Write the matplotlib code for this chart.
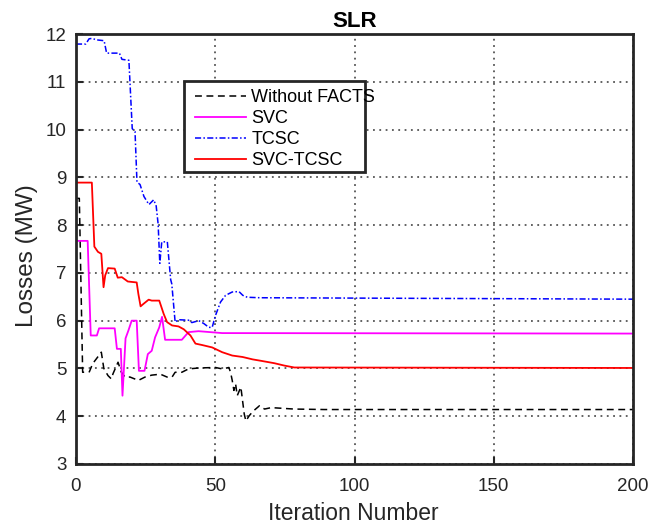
import matplotlib
matplotlib.use("Agg")
import matplotlib.pyplot as plt
from matplotlib.patches import Rectangle

plt.rcParams['font.family'] = ['Liberation Sans', 'DejaVu Sans']

# Without FACTS
wf_it = [0, 1.2, 2.4, 4.8, 6.0, 7.3, 9.1, 10.0, 11.5, 12.7, 13.3, 15.1, 16.3, 17.6, 19.4,
         22.4, 24.8, 27.2, 30.3, 32.7, 34.5, 35.6, 38, 40.4, 44.1, 50.1, 52.5, 54.9, 55.5,
         56.1, 56.7, 57.3, 57.9, 59.2, 59.8, 60.4, 61.0, 62.2, 63.5, 65.9, 67.7, 70.1, 78.3,
         89.2, 200]
wf_val = [8.56, 8.56, 4.92, 4.93, 5.10, 5.20, 5.34, 5.00, 4.85, 4.78, 4.89, 5.13, 4.92, 4.82, 4.82,
          4.75, 4.82, 4.86, 4.88, 4.82, 4.82, 4.92, 4.92, 4.99, 5.01, 5.02, 4.99, 5.02, 4.92,
          4.75, 4.54, 4.68, 4.43, 4.61, 4.33, 4.05, 3.90, 4.01, 4.10, 4.22, 4.15, 4.18, 4.15,
          4.14, 4.14]

# SVC
svc_it = [0, 4.2, 5.3, 7.5, 8.3, 13.9, 14.7, 16.1, 16.7, 17.8, 18.8, 20, 21.8, 22.6, 24.6,
          25.8, 27.2, 28.4, 29.9, 30.9, 32, 38, 40.4, 44, 52.5, 200]
svc_val = [7.67, 7.67, 5.69, 5.69, 5.84, 5.84, 5.41, 5.41, 4.43, 5.63, 5.79, 6.00, 6.00, 4.95, 4.95,
           5.30, 5.37, 5.65, 5.86, 6.08, 5.60, 5.60, 5.76, 5.78, 5.74, 5.73]

# TCSC
tcsc_it = [0, 3.5, 4.7, 5.9, 7.1, 10.1, 11, 15.6, 16.5, 19, 20.2, 21.2, 21.9, 23, 24.4, 26.2,
           27.9, 28.8, 29.5, 30.1, 30.8, 32.8, 34, 34.4, 35.6, 36.8, 40.4, 41.6, 44.1, 45.9,
           47.7, 48.9, 50.1, 51.9, 53.7, 56.1, 58.5, 59.9, 61.5, 66, 200]
tcsc_val = [11.79, 11.79, 11.90, 11.91, 11.88, 11.86, 11.60, 11.60, 11.47, 11.45, 10.02, 9.96, 8.90,
            8.85, 8.60, 8.43, 8.53, 8.40, 8.02, 7.20, 7.65, 7.65, 6.86, 6.77, 5.97, 6.02, 6.01,
            5.96, 6.00, 5.94, 5.86, 5.86, 6.11, 6.39, 6.53, 6.60, 6.61, 6.53, 6.49, 6.48, 6.45]

# SVC-TCSC
st_it = [0, 5.7, 6.6, 7.9, 9.1, 9.9, 10.5, 11.5, 13.9, 15.0, 16.5, 18.6, 21.8, 22.4, 23.2, 24.2,
         26.1, 27.2, 29.9, 31.5, 32.7, 34.5, 36.8, 38.7, 41.1, 42.9, 45.3, 48.9, 52.5, 56.1,
         59.8, 63.4, 66.4, 71.2, 74.8, 78.4, 200]
st_val = [8.89, 8.89, 7.55, 7.44, 7.40, 6.70, 6.95, 7.10, 7.09, 6.90, 6.91, 6.82, 6.80, 6.56, 6.30,
          6.35, 6.44, 6.42, 6.42, 6.14, 5.97, 5.90, 5.88, 5.82, 5.69, 5.52, 5.49, 5.44, 5.34,
          5.27, 5.24, 5.19, 5.16, 5.11, 5.06, 5.02, 5.01]

x_ticks = [0, 50, 100, 150, 200]
y_ticks = [3, 4, 5, 6, 7, 8, 9, 10, 11, 12]

TXT = '#262626'

fig = plt.figure(figsize=(6.51, 5.25), dpi=100)
ax = fig.add_axes([0.1167, 0.1162, 0.8557, 0.819])

ax.plot(wf_it, wf_val, color='black', linestyle=(0, (4.5, 3)), linewidth=1.1, label='Without FACTS')
ax.plot(svc_it, svc_val, color='#ff00ff', linewidth=1.3, label='SVC')
ax.plot(tcsc_it, tcsc_val, color='#0000ff', linestyle=(0, (4, 1.5, 1, 1.5)), linewidth=1.1, label='TCSC')
ax.plot(st_it, st_val, color='#ff0000', linewidth=1.3, label='SVC-TCSC')

ax.set_xlim(0, 200)
ax.set_ylim(3, 12)
ax.set_xticks(x_ticks)
ax.set_yticks(y_ticks)
ax.grid(True, linestyle=(0, (1, 2.5)), color='#555555', linewidth=1.3)
ax.tick_params(direction='in', length=5, width=1.5, labelsize=13.5, colors=TXT)
ax.tick_params(axis='x', pad=10)
ax.tick_params(axis='y', pad=7)
for s in ax.spines.values():
    s.set_linewidth(2)
    s.set_color(TXT)

ax.set_xlabel('Iteration Number', fontsize=16.5, color=TXT)
ax.set_ylabel('Losses (MW)', fontsize=17.5, color=TXT)
ax.xaxis.set_label_coords(0.497, -0.088)
ax.yaxis.set_label_coords(-0.068, 0.484)
ax.set_title('SLR', fontsize=16, fontweight='bold', pad=5, color='black')

# legend box (fixed size, text may overflow as in the original)
ax.add_patch(Rectangle((0.194, 0.679), 0.325, 0.212, transform=ax.transAxes,
                       facecolor='white', edgecolor=TXT, linewidth=2, zorder=4.5))
leg = ax.legend(loc='upper left', bbox_to_anchor=(0.2136, 0.872), fontsize=13,
                handlelength=2.85, borderpad=0, labelspacing=0.22, handletextpad=0.28,
                frameon=False, borderaxespad=0)
leg.set_zorder(5)

fig.savefig('out.png', dpi=100)
